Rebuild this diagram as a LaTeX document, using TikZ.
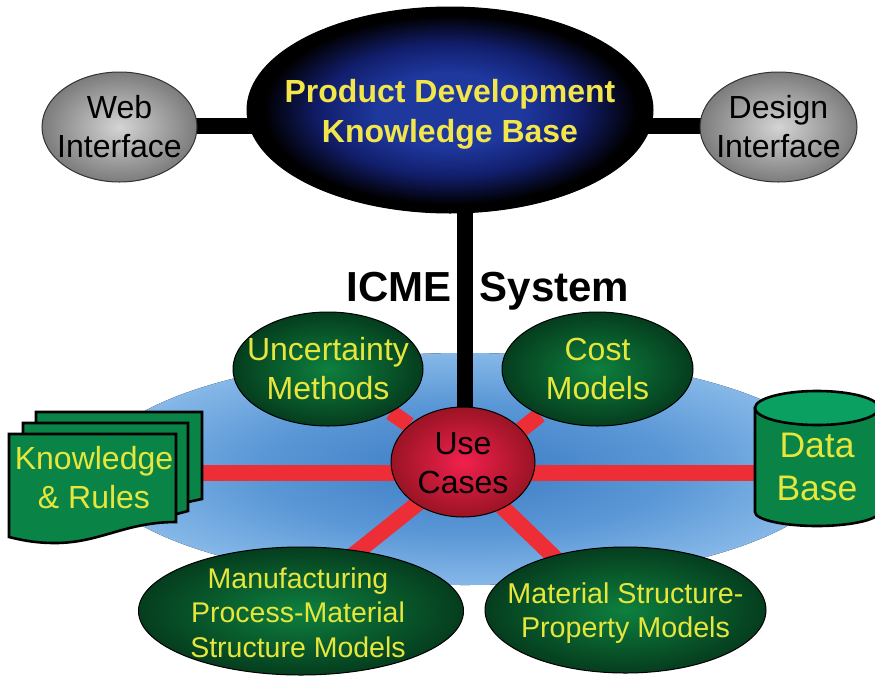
\documentclass[tikz,border=0pt]{standalone}
\usepackage{fontspec}
\setmainfont{Liberation Sans}
\usetikzlibrary{shapes.geometric,calc}
\pgfdeclarelayer{back}
\pgfdeclarelayer{edges}
\pgfsetlayers{back,edges,main}
\definecolor{txtY}{HTML}{E6E63C}
\definecolor{kbY}{HTML}{F2E64A}
\definecolor{docG}{HTML}{0A8446}
\definecolor{docT}{HTML}{0AA062}
\definecolor{redL}{HTML}{EE2E36}
\definecolor{grnIn}{HTML}{0E803E}
\definecolor{grnOut}{HTML}{053D1E}
\definecolor{redIn}{HTML}{F2204E}
\definecolor{redOut}{HTML}{9A1424}
\definecolor{gryIn}{HTML}{D4D4D4}
\definecolor{gryOut}{HTML}{7C7C7C}
\definecolor{kbIn}{HTML}{1E389E}
\definecolor{kbMid}{HTML}{121E6C}
\definecolor{bluIn}{HTML}{3C7CC4}
\definecolor{bluMid}{HTML}{5A97D6}
\definecolor{bluOut}{HTML}{86B8E8}
% a path's bounding box fills the central 50bp of a shading, so its edge lies at 25bp
\pgfdeclareradialshading{kbshade}{\pgfpointorigin}{color(0bp)=(kbIn); color(9bp)=(kbIn); color(16bp)=(kbMid); color(23bp)=(black); color(50bp)=(black)}
\pgfdeclareradialshading{blueshade}{\pgfpointorigin}{color(0bp)=(bluIn); color(14bp)=(bluMid); color(25bp)=(bluOut); color(50bp)=(bluOut)}
\tikzset{
  x=1pt,y=-1pt,
  oval/.style={ellipse,inner sep=0pt,draw=black,line width=1pt},
  greenoval/.style={oval,inner color=grnIn,outer color=grnOut},
  greyoval/.style={oval,inner color=gryIn,outer color=gryOut,draw=black!80},
  redoval/.style={oval,inner color=redIn,outer color=redOut},
  kboval/.style={oval,shading=kbshade},
  darkfont/.style={font=\fontsize{32}{39}\selectfont},
  ytext/.style={text=txtY,align=center,inner sep=0pt},
  ktext/.style={text=black,align=center,inner sep=0pt},
  redbar/.style={draw=redL,line width=16pt},
  blackbar/.style={draw=black,line width=16pt},
  docpage/.style={draw=black,line width=2.6pt,fill=docG,line join=miter},
  plainlabel/.style={inner sep=0pt,align=center},
}
\begin{document}
\begin{tikzpicture}
\useasboundingbox (0,0) rectangle (875,675);
% nodes
\node[kboval,minimum width=406pt,minimum height=206pt,
  label={[ytext,text=kbY,yshift=-4pt,font=\fontsize{32}{40}\selectfont\bfseries]center:{Product Development\\Knowledge Base}}] (kb) at (450,110) {};
\node[greyoval,minimum width=155pt,minimum height=110pt,
  label={[ktext,darkfont]center:{Web\\Interface}}] (web) at (119.5,127) {};
\node[greyoval,minimum width=157pt,minimum height=110pt,
  label={[ktext,darkfont]center:{Design\\Interface}}] (des) at (778.5,127) {};
\node[redoval,minimum width=144pt,minimum height=110pt,
  label={[ktext,darkfont,yshift=-1pt]center:{Use\\Cases}}] (uc) at (463,462) {};
\node[greenoval,minimum width=190pt,minimum height=114pt,
  label={[ytext,darkfont]center:{Uncertainty\\Methods}}] (unc) at (328,369) {};
\node[greenoval,minimum width=191pt,minimum height=114pt,
  label={[ytext,darkfont]center:{Cost\\Models}}] (cost) at (597.5,369) {};
\node[greenoval,minimum width=325pt,minimum height=128pt,
  label={[ytext,xshift=-3pt,yshift=-1.5pt,font=\fontsize{28.5}{34.5}\selectfont]center:{Manufacturing\\Process-Material\\Structure Models}}] (manu) at (301,611) {};
\node[greenoval,minimum width=281pt,minimum height=126pt,
  label={[ytext,yshift=-3pt,font=\fontsize{28.7}{34}\selectfont]center:{Material Structure-\\Property Models}}] (mat) at (625.5,610) {};
\node[plainlabel,font=\fontsize{42}{48}\selectfont\bfseries] (title) at (488,291) {ICME\hspace{28pt}System};
% knowledge pages
\draw[docpage] (36,412) -- (202,412) -- (202,499) -- (150,510) -- (36,510) -- cycle;
\draw[docpage] (23,423) -- (188,423) -- (188,511) -- (150,521) -- (23,521) -- cycle;
\draw[docpage] (9,434) -- (176,434) -- (176,522) .. controls (125,522) and (100,543) .. (55,543) .. controls (38,543) and (25,541) .. (9,537) -- cycle;
\node[plainlabel,text=txtY,darkfont,minimum width=166pt,minimum height=87pt] (kr) at (94,478) {Knowledge\\\& Rules};
\coordinate (krE) at (202,473);
% data base
\draw[draw=black,line width=2.6pt,fill=docG] (755,408) -- (755,512) .. controls (755,520) and (785,526) .. (817,526) .. controls (849,526) and (879,520) .. (879,512) -- (879,408) -- cycle;
\draw[draw=black,line width=2.6pt,fill=docT] (817,408) ellipse (62 and 17);
\node[plainlabel,text=txtY,font=\fontsize{35.5}{43}\selectfont,minimum width=124pt] (db) at (817,467) {Data\\Base};
\coordinate (dbW) at (755,473);
% connectors
\begin{pgfonlayer}{edges}
\draw[blackbar] ($(web)+(0,-1)$) -- ($(kb)+(0,16)$);
\draw[blackbar] ($(des)+(0,-1)$) -- ($(kb)+(0,16)$);
\draw[blackbar] ($(kb.south)+(15,-10)$) coordinate (kbs) -- (kbs |- uc);
\draw[redbar] (krE) -- (dbW);
\draw[redbar] (uc) -- (unc);
\draw[redbar] ($(uc)+(0,14)$) -- (cost);
\draw[redbar] ($(uc)+(0,5)$) -- ($(manu)+(0,-14)$);
\draw[redbar] ($(uc)+(0,7)$) -- ($(mat)+(0,16)$);
\end{pgfonlayer}
\begin{pgfonlayer}{back}
\fill[shading=blueshade] (465,469) ellipse (370 and 116);
\end{pgfonlayer}
\end{tikzpicture}
\end{document}
